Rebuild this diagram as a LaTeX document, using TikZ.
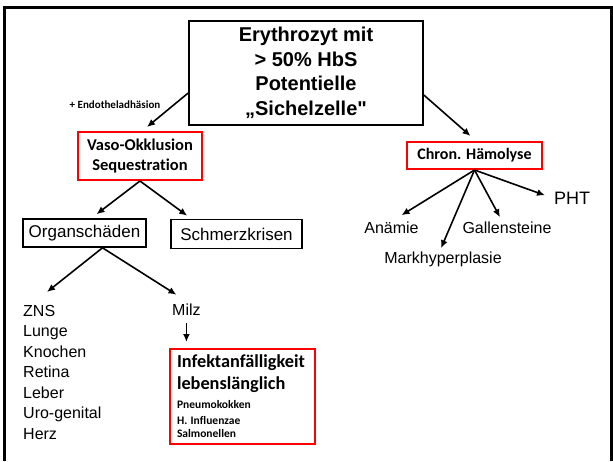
\documentclass[tikz,border=0pt]{standalone}
\usepackage{fontspec}
\setmainfont[Ligatures=TeXOff]{Liberation Sans}
\newfontfamily\calibri[Ligatures=NoCommon]{Carlito}
\usetikzlibrary{arrows.meta}
\tikzset{
  every node/.style={
    text=black
  },
  arr/.style={-{Latex[length=8pt,width=7pt]}, line width=1.6pt},
  blackbox/.style={draw, line width=1.6pt, inner sep=0pt},
  redbox/.style={draw=red, line width=2pt, inner sep=0pt},
  plain/.style={inner sep=1pt, font=\fontsize{16}{20.5}\selectfont}
}

\begin{document}
\begin{tikzpicture}[x=1pt, y=-1pt]
    \useasboundingbox (0,0) rectangle (613,461);
    % Rahmen, unten offen
    \draw[line width=3pt] (4.5,461) -- (4.5,7.5) -- (611.5,7.5) -- (611.5,461);

    \node[blackbox, minimum width=234pt, minimum height=104pt, align=center,
          font=\bfseries\fontsize{20}{24.5}\selectfont] (main) at (306,73)
          {Erythrozyt mit\\> 50\% HbS\\Potentielle\\„Sichelzelle"};
    \node[font=\calibri\bfseries\fontsize{11}{13}\selectfont, inner sep=0pt, anchor=base] (adh) at (115,108) {+ Endotheladhäsion};

    \node[redbox, minimum width=124pt, minimum height=48pt, align=center,
          font=\calibri\bfseries\fontsize{16.5}{20.5}\selectfont] (vaso) at (140,156) {Vaso-Okklusion\\Sequestration};
    \node[redbox, minimum width=135pt, minimum height=27pt,
          font=\calibri\bfseries\fontsize{16}{19}\selectfont] (chron) at (474.5,155.5) {Chron. Hämolyse};

    \node[blackbox, minimum width=123pt, minimum height=28pt, font=\fontsize{17}{20}\selectfont] (organ) at (84.5,233) {Organschäden};
    \node[blackbox, minimum width=131pt, minimum height=29pt, font=\fontsize{17}{20}\selectfont] (schmerz) at (236.5,234) {Schmerzkrisen};

    \node[plain, anchor=north west, align=left, inner sep=0pt] (organlist) at (23,305)
          {ZNS\\Lunge\\Knochen\\Retina\\Leber\\Uro-genital\\Herz};
    \node[plain, anchor=base west] (milz) at (171,315) {Milz};
    \node[redbox, anchor=north west, minimum width=145pt, minimum height=95pt, text width=131pt,
          align=left, inner xsep=7pt, font=\calibri\bfseries] (infekt) at (169,348)
          {\fontsize{18.3}{22}\selectfont Infektanfälligkeit\\lebenslänglich\\[5pt]
           \fontsize{11.5}{14}\selectfont Pneumokokken\\[1.5pt]H. Influenzae\\[1.5pt]Salmonellen};

    \node[plain, anchor=base] (anaemie) at (391.5,233) {Anämie};
    \node[plain, anchor=base] (gallen) at (507,233) {Gallensteine};
    \node[plain, anchor=base] (mark) at (443,263) {Markhyperplasie};
    \node[plain, anchor=base west, font=\fontsize{18}{20}\selectfont] (pht) at (553,204) {PHT};

    \draw[arr] ([yshift=-20pt]main.west) -- ([xshift=7pt, yshift=4pt]vaso.north);
    \draw[arr] ([yshift=-22pt]main.east) -- ([xshift=-4pt, yshift=5pt]chron.north);

    \draw[arr] (chron.south) -- ([xshift=10pt, yshift=5pt]anaemie.north);
    \draw[arr] (chron.south) -- ([xshift=-2pt, yshift=2pt]mark.north);
    \draw[arr] (chron.south) -- ([xshift=-7pt, yshift=3pt]gallen.north);
    \draw[arr] (chron.south) -- ([xshift=-8pt, yshift=2.5pt]pht.west);

    \draw[arr] (vaso.south) -- ([xshift=12pt, yshift=4pt]organ.north);
    \draw[arr] (vaso.south) -- ([xshift=17pt, yshift=3pt]schmerz.north west);
    \draw[arr] ([xshift=18pt]organ.south) -- ([xshift=24pt, yshift=13pt]organlist.north west);
    \draw[arr] ([xshift=18pt]organ.south) -- ([xshift=-10pt, yshift=7.5pt]milz.north);
    \draw[arr, shorten <=7pt, shorten >=6pt] (milz.south) -- (milz.south |- infekt.north);
\end{tikzpicture}
\end{document}
